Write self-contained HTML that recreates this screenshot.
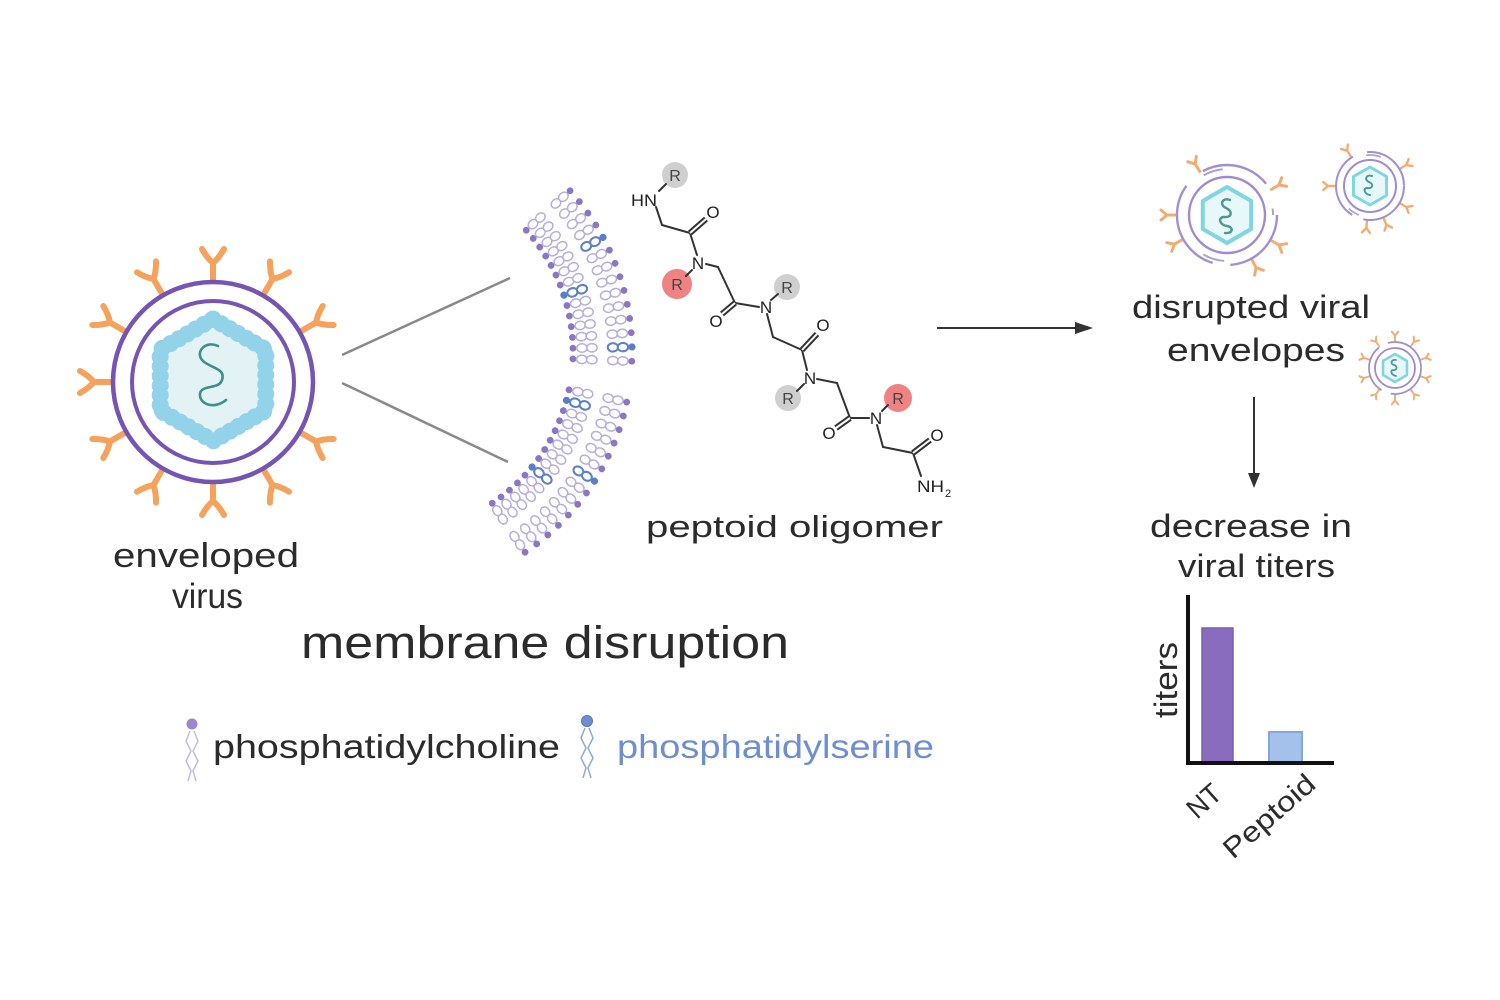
<!DOCTYPE html>
<html>
<head>
<meta charset="utf-8">
<style>
html,body{margin:0;padding:0;background:#fff;}
svg{display:block;}
.t{font-family:"Liberation Sans",sans-serif;fill:#2b2b2b;}
.a{font-family:"Liberation Sans",sans-serif;fill:#222;font-size:17px;}
</style>
</head>
<body>
<svg width="1500" height="1000" viewBox="0 0 1500 1000" xmlns="http://www.w3.org/2000/svg">
<defs>
  <path id="sp" d="M213,283 L213,263 M213,263 Q207,258 202,249 M213,263 Q219,258 224,249" fill="none" stroke="#f5a25c" stroke-width="6" stroke-linecap="round"/>
  <path id="ds" d="M0,0 V-10 M0,-10 L-5,-16 M0,-10 L5,-16" fill="none" stroke="#f4ab70" stroke-width="3" stroke-linecap="round"/>
  <g id="ip">
    <circle cx="573" cy="352" r="3.4" fill="#8a76c2"/>
    <ellipse cx="582" cy="352" rx="5.2" ry="4.2" fill="#fff" stroke="#b7aedd" stroke-width="1.5"/>
    <ellipse cx="592" cy="352" rx="5.2" ry="4.2" fill="#fff" stroke="#b7aedd" stroke-width="1.5"/>
  </g>
  <g id="op">
    <ellipse cx="613" cy="352" rx="5.2" ry="4.2" fill="#fff" stroke="#b7aedd" stroke-width="1.5"/>
    <ellipse cx="623" cy="352" rx="5.2" ry="4.2" fill="#fff" stroke="#b7aedd" stroke-width="1.5"/>
    <circle cx="632" cy="352" r="3.4" fill="#8a76c2"/>
  </g>
  <g id="ib">
    <circle cx="573" cy="352" r="3.6" fill="#5a7ec6"/>
    <ellipse cx="582" cy="352" rx="5.2" ry="4.2" fill="#fff" stroke="#5d82c6" stroke-width="2.1"/>
    <ellipse cx="592" cy="352" rx="5.2" ry="4.2" fill="#fff" stroke="#5d82c6" stroke-width="2.1"/>
  </g>
  <g id="ob">
    <ellipse cx="613" cy="352" rx="5.2" ry="4.2" fill="#fff" stroke="#5d82c6" stroke-width="2.1"/>
    <ellipse cx="623" cy="352" rx="5.2" ry="4.2" fill="#fff" stroke="#5d82c6" stroke-width="2.1"/>
    <circle cx="632" cy="352" r="3.6" fill="#5a7ec6"/>
  </g>
</defs>

<rect width="1500" height="1000" fill="#fff"/>

<!-- ===== Enveloped virus ===== -->
<g>
  <use href="#sp" transform="rotate(0 213 382)"/>
  <use href="#sp" transform="rotate(30 213 382)"/>
  <use href="#sp" transform="rotate(60 213 382)"/>
  <use href="#sp" transform="rotate(120 213 382)"/>
  <use href="#sp" transform="rotate(150 213 382)"/>
  <use href="#sp" transform="rotate(180 213 382)"/>
  <use href="#sp" transform="rotate(210 213 382)"/>
  <use href="#sp" transform="rotate(240 213 382)"/>
  <use href="#sp" transform="rotate(270 213 382)"/>
  <use href="#sp" transform="rotate(300 213 382)"/>
  <use href="#sp" transform="rotate(330 213 382)"/>
  <circle cx="213" cy="382" r="100" fill="#fff" stroke="#7654b4" stroke-width="4.5"/>
  <circle cx="213" cy="382" r="81" fill="#fff" stroke="#7654b4" stroke-width="4"/>
  <polygon points="213,319 265.8,349.5 265.8,410.5 213,441 160.2,410.5 160.2,349.5" fill="#e2f2f5" stroke="#93d3ea" stroke-width="13" stroke-linejoin="round"/>
  <polygon points="213,319 265.8,349.5 265.8,410.5 213,441 160.2,410.5 160.2,349.5" fill="none" stroke="#93d3ea" stroke-width="17" stroke-linecap="round" stroke-dasharray="0.1 9.5"/>
  <path d="M218,346 C206,340 194,352 203,361 C210,368 226,368 222,380 C219,390 201,384 200,394 C199,404 214,410 226,400" fill="none" stroke="#3d8f8a" stroke-width="2.6" stroke-linecap="round"/>
</g>

<line x1="342" y1="355" x2="510" y2="278" stroke="#8a8a8a" stroke-width="2.5"/>
<line x1="342" y1="383" x2="508" y2="462" stroke="#8a8a8a" stroke-width="2.5"/>

<!-- ===== Membrane bilayer ===== -->
<g>
  <use href="#ip" transform="rotate(-42 391 352)"/><use href="#op" transform="rotate(-42 391 352)"/>
  <use href="#ip" transform="rotate(-38.6 391 352)"/><use href="#op" transform="rotate(-38.6 391 352)"/>
  <use href="#ip" transform="rotate(-35.2 391 352)"/><use href="#op" transform="rotate(-35.2 391 352)"/>
  <use href="#ip" transform="rotate(-31.8 391 352)"/><use href="#op" transform="rotate(-31.8 391 352)"/>
  <use href="#ip" transform="rotate(-28.4 391 352)"/><use href="#ob" transform="rotate(-28.4 391 352)"/>
  <use href="#ip" transform="rotate(-25 391 352)"/><use href="#op" transform="rotate(-25 391 352)"/>
  <use href="#ip" transform="rotate(-21.6 391 352)"/><use href="#op" transform="rotate(-21.6 391 352)"/>
  <use href="#ib" transform="rotate(-18.2 391 352)"/><use href="#op" transform="rotate(-18.2 391 352)"/>
  <use href="#ip" transform="rotate(-14.8 391 352)"/><use href="#op" transform="rotate(-14.8 391 352)"/>
  <use href="#ip" transform="rotate(-11.4 391 352)"/><use href="#op" transform="rotate(-11.4 391 352)"/>
  <use href="#ip" transform="rotate(-8 391 352)"/><use href="#op" transform="rotate(-8 391 352)"/>
  <use href="#ip" transform="rotate(-4.6 391 352)"/><use href="#op" transform="rotate(-4.6 391 352)"/>
  <use href="#ip" transform="rotate(-1.2 391 352)"/><use href="#ob" transform="rotate(-1.2 391 352)"/>
  <use href="#ip" transform="rotate(2.2 391 352)"/><use href="#op" transform="rotate(2.2 391 352)"/>

  <use href="#ip" transform="rotate(12 391 352)"/><use href="#op" transform="rotate(12 391 352)"/>
  <use href="#ib" transform="rotate(15.4 391 352)"/><use href="#op" transform="rotate(15.4 391 352)"/>
  <use href="#ip" transform="rotate(18.8 391 352)"/><use href="#op" transform="rotate(18.8 391 352)"/>
  <use href="#ip" transform="rotate(22.2 391 352)"/><use href="#op" transform="rotate(22.2 391 352)"/>
  <use href="#ip" transform="rotate(25.6 391 352)"/><use href="#op" transform="rotate(25.6 391 352)"/>
  <use href="#ip" transform="rotate(29 391 352)"/><use href="#op" transform="rotate(29 391 352)"/>
  <use href="#ip" transform="rotate(32.4 391 352)"/><use href="#ob" transform="rotate(32.4 391 352)"/>
  <use href="#ip" transform="rotate(35.8 391 352)"/><use href="#op" transform="rotate(35.8 391 352)"/>
  <use href="#ib" transform="rotate(39.2 391 352)"/><use href="#op" transform="rotate(39.2 391 352)"/>
  <use href="#ip" transform="rotate(42.6 391 352)"/><use href="#op" transform="rotate(42.6 391 352)"/>
  <use href="#ip" transform="rotate(46 391 352)"/><use href="#op" transform="rotate(46 391 352)"/>
  <use href="#ip" transform="rotate(49.4 391 352)"/><use href="#op" transform="rotate(49.4 391 352)"/>
  <use href="#ip" transform="rotate(52.8 391 352)"/><use href="#op" transform="rotate(52.8 391 352)"/>
  <use href="#ip" transform="rotate(56.2 391 352)"/><use href="#op" transform="rotate(56.2 391 352)"/>
</g>

<!-- ===== Peptoid structure ===== -->
<g>
  <circle cx="675" cy="175" r="13" fill="#cfcfcf"/>
  <circle cx="677" cy="284" r="15" fill="#ef8282"/>
  <circle cx="787" cy="287" r="13" fill="#cfcfcf"/>
  <circle cx="788" cy="398" r="13" fill="#cfcfcf"/>
  <circle cx="898" cy="398" r="14" fill="#ef8282"/>
  <g stroke="#333" stroke-width="2" fill="none" stroke-linecap="round">
    <line x1="659" y1="191" x2="666" y2="184"/>
    <line x1="656" y1="207" x2="662" y2="225"/>
    <line x1="662" y1="225" x2="690" y2="233"/>
    <line x1="690" y1="233" x2="697" y2="255"/>
    <line x1="692" y1="270" x2="686" y2="276"/>
    <line x1="706" y1="264" x2="718" y2="267"/>
    <line x1="718" y1="267" x2="735" y2="303"/>
    <line x1="735" y1="303" x2="759" y2="307"/>
    <line x1="771" y1="300" x2="778" y2="294"/>
    <line x1="767" y1="314" x2="773" y2="337"/>
    <line x1="773" y1="337" x2="802" y2="350"/>
    <line x1="802" y1="350" x2="807" y2="370"/>
    <line x1="804" y1="384" x2="797" y2="391"/>
    <line x1="817" y1="379" x2="837" y2="383"/>
    <line x1="837" y1="383" x2="850" y2="418"/>
    <line x1="850" y1="418" x2="869" y2="418"/>
    <line x1="882" y1="411" x2="888" y2="405"/>
    <line x1="877" y1="425" x2="883" y2="447"/>
    <line x1="883" y1="447" x2="913" y2="453"/>
    <line x1="913" y1="453" x2="921" y2="476"/>
  </g>
  <g stroke-linecap="butt">
    <line x1="690" y1="233" x2="706" y2="219" stroke="#333" stroke-width="6"/>
    <line x1="690" y1="233" x2="706" y2="219" stroke="#fff" stroke-width="2"/>
    <line x1="735" y1="303" x2="722" y2="314" stroke="#333" stroke-width="6"/>
    <line x1="735" y1="303" x2="722" y2="314" stroke="#fff" stroke-width="2"/>
    <line x1="802" y1="350" x2="817" y2="334" stroke="#333" stroke-width="6"/>
    <line x1="802" y1="350" x2="817" y2="334" stroke="#fff" stroke-width="2"/>
    <line x1="850" y1="418" x2="836" y2="428" stroke="#333" stroke-width="6"/>
    <line x1="850" y1="418" x2="836" y2="428" stroke="#fff" stroke-width="2"/>
    <line x1="913" y1="453" x2="930" y2="440" stroke="#333" stroke-width="6"/>
    <line x1="913" y1="453" x2="930" y2="440" stroke="#fff" stroke-width="2"/>
  </g>
  <text class="a" x="631" y="206" textLength="26" lengthAdjust="spacingAndGlyphs">HN</text>
  <text class="a" x="713" y="218" text-anchor="middle">O</text>
  <text class="a" x="698" y="269" text-anchor="middle">N</text>
  <text class="a" x="716" y="327" text-anchor="middle">O</text>
  <text class="a" x="766" y="313" text-anchor="middle">N</text>
  <text class="a" x="823" y="331" text-anchor="middle">O</text>
  <text class="a" x="810" y="384" text-anchor="middle">N</text>
  <text class="a" x="829" y="439" text-anchor="middle">O</text>
  <text class="a" x="876" y="424" text-anchor="middle">N</text>
  <text class="a" x="937" y="441" text-anchor="middle">O</text>
  <text class="a" x="917" y="492" textLength="27" lengthAdjust="spacingAndGlyphs">NH</text>
  <text class="a" x="945" y="497" style="font-size:11px">2</text>
  <text class="a" x="675" y="181" text-anchor="middle" style="font-size:16px;fill:#444">R</text>
  <text class="a" x="677" y="290" text-anchor="middle" style="font-size:16px;fill:#444">R</text>
  <text class="a" x="787" y="293" text-anchor="middle" style="font-size:16px;fill:#444">R</text>
  <text class="a" x="788" y="404" text-anchor="middle" style="font-size:16px;fill:#444">R</text>
  <text class="a" x="898" y="404" text-anchor="middle" style="font-size:16px;fill:#444">R</text>
</g>

<!-- ===== Arrows ===== -->
<line x1="937" y1="328" x2="1078" y2="328" stroke="#333" stroke-width="2"/>
<polygon points="1075,322 1093,328 1075,334" fill="#333"/>
<line x1="1254" y1="397" x2="1254" y2="475" stroke="#333" stroke-width="2"/>
<polygon points="1248,473 1254,488 1260,473" fill="#333"/>

<!-- ===== Disrupted viruses ===== -->
<g>
  <use href="#ds" transform="translate(1227 215) rotate(328) translate(0 -50)"/>
  <use href="#ds" transform="translate(1227 215) rotate(60) translate(0 -50)"/>
  <use href="#ds" transform="translate(1227 215) rotate(270) translate(0 -50)"/>
  <use href="#ds" transform="translate(1227 215) rotate(241) translate(0 -50)"/>
  <use href="#ds" transform="translate(1227 215) rotate(120) translate(0 -50)"/>
  <use href="#ds" transform="translate(1227 215) rotate(151) translate(0 -50)"/>
  <circle cx="1227" cy="215" r="50" fill="#fff" stroke="#a090d2" stroke-width="2.4" stroke-dasharray="75 18 95 22 70 34"/>
  <circle cx="1227" cy="215" r="46" fill="none" stroke="#ad9fd8" stroke-width="2" stroke-dasharray="0 75 22 95 20 70 34"/>
  <circle cx="1227" cy="215" r="38" fill="#fff" stroke="#9f8bd0" stroke-width="2.4"/>
  <polygon points="1227,187 1251.2,201 1251.2,229 1227,243 1202.8,229 1202.8,201" fill="#e8f7f9" stroke="#7fd6e3" stroke-width="4" stroke-linejoin="round"/>
  <path d="M1230,200 C1222,197 1219,205 1226,208 C1233,211 1232,218 1224,217 C1218,217 1219,225 1227,226 C1234,227 1233,234 1225,233" fill="none" stroke="#4a9a90" stroke-width="2.4" stroke-linecap="round"/>
</g>
<g>
  <use href="#ds" transform="translate(1370 186) rotate(327) translate(0 -34) scale(0.8)"/>
  <use href="#ds" transform="translate(1370 186) rotate(60) translate(0 -34) scale(0.8)"/>
  <use href="#ds" transform="translate(1370 186) rotate(120) translate(0 -34) scale(0.8)"/>
  <use href="#ds" transform="translate(1370 186) rotate(157) translate(0 -34) scale(0.8)"/>
  <use href="#ds" transform="translate(1370 186) rotate(185) translate(0 -34) scale(0.8)"/>
  <use href="#ds" transform="translate(1370 186) rotate(270) translate(0 -34) scale(0.8)"/>
  <circle cx="1370" cy="186" r="34" fill="#fff" stroke="#a090d2" stroke-width="2" stroke-dasharray="60 12 70 15 56"/>
  <circle cx="1370" cy="186" r="31" fill="none" stroke="#ad9fd8" stroke-width="1.7" stroke-dasharray="0 60 12 70 15 56"/>
  <circle cx="1370" cy="186" r="26" fill="#fff" stroke="#9f8bd0" stroke-width="2"/>
  <polygon points="1370,167 1386.5,176.5 1386.5,195.5 1370,205 1353.5,195.5 1353.5,176.5" fill="#e8f7f9" stroke="#7fd6e3" stroke-width="3" stroke-linejoin="round"/>
  <path d="M1372,176 C1366,174 1364,180 1369,182 C1374,184 1373,189 1367,188 C1363,188 1364,194 1370,195" fill="none" stroke="#4a9a90" stroke-width="2" stroke-linecap="round"/>
</g>
<g>
  <use href="#ds" transform="translate(1395 368) rotate(0) translate(0 -26) scale(0.65)"/>
  <use href="#ds" transform="translate(1395 368) rotate(36) translate(0 -26) scale(0.65)"/>
  <use href="#ds" transform="translate(1395 368) rotate(72) translate(0 -26) scale(0.65)"/>
  <use href="#ds" transform="translate(1395 368) rotate(108) translate(0 -26) scale(0.65)"/>
  <use href="#ds" transform="translate(1395 368) rotate(144) translate(0 -26) scale(0.65)"/>
  <use href="#ds" transform="translate(1395 368) rotate(180) translate(0 -26) scale(0.65)"/>
  <use href="#ds" transform="translate(1395 368) rotate(216) translate(0 -26) scale(0.65)"/>
  <use href="#ds" transform="translate(1395 368) rotate(252) translate(0 -26) scale(0.65)"/>
  <use href="#ds" transform="translate(1395 368) rotate(288) translate(0 -26) scale(0.65)"/>
  <use href="#ds" transform="translate(1395 368) rotate(324) translate(0 -26) scale(0.65)"/>
  <circle cx="1395" cy="368" r="26" fill="#fff" stroke="#a090d2" stroke-width="1.8" stroke-dasharray="45 10 50 10 48"/>
  <circle cx="1395" cy="368" r="20" fill="#fff" stroke="#9f8bd0" stroke-width="1.8"/>
  <polygon points="1395,354 1407,361 1407,375 1395,382 1383,375 1383,361" fill="#e8f7f9" stroke="#7fd6e3" stroke-width="2.6" stroke-linejoin="round"/>
  <path d="M1396,360 C1391,359 1390,364 1394,365 C1398,366 1397,371 1393,370 C1390,370 1391,375 1396,376" fill="none" stroke="#4a9a90" stroke-width="1.8" stroke-linecap="round"/>
</g>

<!-- ===== Bar chart ===== -->
<g>
  <rect x="1202" y="628" width="31" height="134" fill="#8a6cbf" stroke="#7a5cb2" stroke-width="1.5"/>
  <rect x="1269" y="732" width="33" height="30" fill="#a3c1ea" stroke="#85a6d9" stroke-width="2"/>
  <line x1="1188" y1="595" x2="1188" y2="765" stroke="#111" stroke-width="4"/>
  <line x1="1186" y1="763" x2="1334" y2="763" stroke="#111" stroke-width="4"/>
  <text class="t" transform="translate(1177 680) rotate(-90)" text-anchor="middle" style="font-size:32px" textLength="76" lengthAdjust="spacingAndGlyphs">titers</text>
  <text class="t" transform="translate(1197 820) rotate(-42)" style="font-size:28px" textLength="36" lengthAdjust="spacingAndGlyphs">NT</text>
  <text class="t" transform="translate(1233 860) rotate(-41)" style="font-size:28px" textLength="112" lengthAdjust="spacingAndGlyphs">Peptoid</text>
</g>

<!-- ===== Labels ===== -->
<text class="t" x="113" y="567" style="font-size:34px" textLength="186" lengthAdjust="spacingAndGlyphs">enveloped</text>
<text class="t" x="172" y="608" style="font-size:35px" textLength="71" lengthAdjust="spacingAndGlyphs">virus</text>
<text class="t" x="301" y="658" style="font-size:45px" textLength="488" lengthAdjust="spacingAndGlyphs">membrane disruption</text>
<text class="t" x="646" y="537" style="font-size:31px" textLength="297" lengthAdjust="spacingAndGlyphs">peptoid oligomer</text>
<text class="t" x="1132" y="318" style="font-size:32px" textLength="238" lengthAdjust="spacingAndGlyphs">disrupted viral</text>
<text class="t" x="1167" y="361" style="font-size:32px" textLength="178" lengthAdjust="spacingAndGlyphs">envelopes</text>
<text class="t" x="1150" y="537" style="font-size:32px" textLength="202" lengthAdjust="spacingAndGlyphs">decrease in</text>
<text class="t" x="1178" y="577" style="font-size:32px" textLength="157" lengthAdjust="spacingAndGlyphs">viral titers</text>

<!-- ===== Legend ===== -->
<g>
  <circle cx="192" cy="724" r="5.5" fill="#9b89cc"/>
  <path d="M190,731 L186,741 L191,751 L186,761 L191,771 L188,781" fill="none" stroke="#c4bde0" stroke-width="1.5"/>
  <path d="M194,731 L198,741 L193,751 L198,761 L193,771 L196,781" fill="none" stroke="#c4bde0" stroke-width="1.5"/>
  <text class="t" x="213" y="758" style="font-size:33px" textLength="347" lengthAdjust="spacingAndGlyphs">phosphatidylcholine</text>
  <circle cx="587" cy="721" r="5.5" fill="#6d8fd0" stroke="#5577bb" stroke-width="1"/>
  <path d="M585,728 L581,738 L586,748 L581,758 L586,768 L583,778" fill="none" stroke="#8fa8d8" stroke-width="1.5"/>
  <path d="M589,728 L593,738 L588,748 L593,758 L588,768 L591,778" fill="none" stroke="#8fa8d8" stroke-width="1.5"/>
  <text class="t" x="617" y="758" style="font-size:33px;fill:#6e8ed2" textLength="317" lengthAdjust="spacingAndGlyphs">phosphatidylserine</text>
</g>
</svg>
</body>
</html>
